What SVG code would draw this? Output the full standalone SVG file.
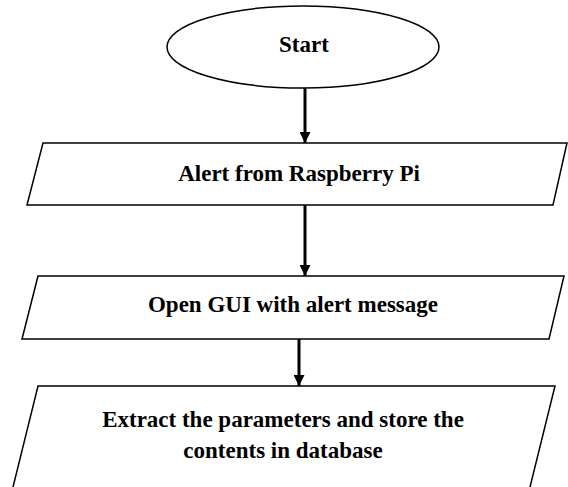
<svg xmlns="http://www.w3.org/2000/svg" width="568" height="487" viewBox="0 0 568 487">
<style>
.shape{fill:#fff;stroke:#000;stroke-width:1.5}
.lbl{font-family:"Liberation Serif","Times New Roman",serif;font-weight:bold;font-size:23px;fill:#000;text-anchor:middle}
.conn{stroke:#000;stroke-width:3;fill:none}
</style>
<defs>
<marker id="ah" markerUnits="userSpaceOnUse" markerWidth="11" markerHeight="11" refX="11" refY="5.5" orient="auto">
<path d="M0,0 L11,5.5 L0,11 z" fill="#000"/>
</marker>
</defs>
<rect width="568" height="487" fill="#fff"/>
<g id="start">
<ellipse class="shape" cx="303" cy="47" rx="136" ry="41"/>
<text class="lbl" x="304" y="52">Start</text>
</g>
<g id="alert">
<polygon class="shape" points="43,143 567,143 553,205 27,205"/>
<text class="lbl" x="299" y="181">Alert from Raspberry Pi</text>
</g>
<g id="gui">
<polygon class="shape" points="38,276 564,276 549,339 22,339"/>
<text class="lbl" x="293" y="312">Open GUI with alert message</text>
</g>
<g id="extract">
<polygon class="shape" points="38,386 555,386 526.8,500 9.8,500"/>
<text class="lbl" x="283" y="427">Extract the parameters and store the</text>
<text class="lbl" x="283" y="458">contents in database</text>
</g>
<g id="connectors">
<line class="conn" x1="305" y1="88" x2="305" y2="143" marker-end="url(#ah)"/>
<line class="conn" x1="305" y1="205" x2="305" y2="276" marker-end="url(#ah)"/>
<line class="conn" x1="299" y1="339" x2="299" y2="386" marker-end="url(#ah)"/>
</g>
</svg>
